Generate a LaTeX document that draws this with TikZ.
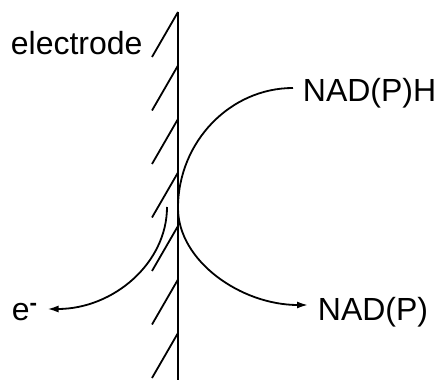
\documentclass[tikz,border=0pt]{standalone}
\usepackage{fontspec}
\setmainfont{Liberation Sans}
\usetikzlibrary{arrows.meta,calc}
\tikzset{
  lbl/.style={font=\fontsize{32}{38}\selectfont, inner sep=0pt},
  flow/.style={-{Latex[length=11pt,width=7pt]}}
}
\begin{document}
\begin{tikzpicture}[x=1pt,y=1pt,line width=1.8pt]
        \useasboundingbox (0,0) rectangle (438,380);
        % electrode with hatching
        \draw (178,368) -- (178,0);
        \foreach \i in {0,...,6}
            \draw (178,368-53.5*\i) -- ++(-26,-45);
        \node[lbl, anchor=base west] (electrode) at (10,325) {electrode};

        \node[lbl, anchor=base west] (nadph) at (302,278) {NAD(P)H};
        \node[lbl, anchor=base west] (nadp)  at (317,60)  {NAD(P)};
        \node[lbl, anchor=base west] (elec)  at (11,60)   {e\textsuperscript{\textbf{-}}};
        \coordinate (touch)  at (178,172);
        \coordinate (estart) at (167,173);

        \draw[flow] ($(nadph.base west)+(-9,14)$)
            .. controls +(-63,0) and +(0,66) .. (touch)
            .. controls +(0,-53) and +(-67,0) .. ($(nadp.base west)+(-9,15)$);
        \draw[flow] (estart)
            .. controls +(0,-56) and +(66,0) .. ($(elec.base east)+(9,11)$);
    \end{tikzpicture}
\end{document}
